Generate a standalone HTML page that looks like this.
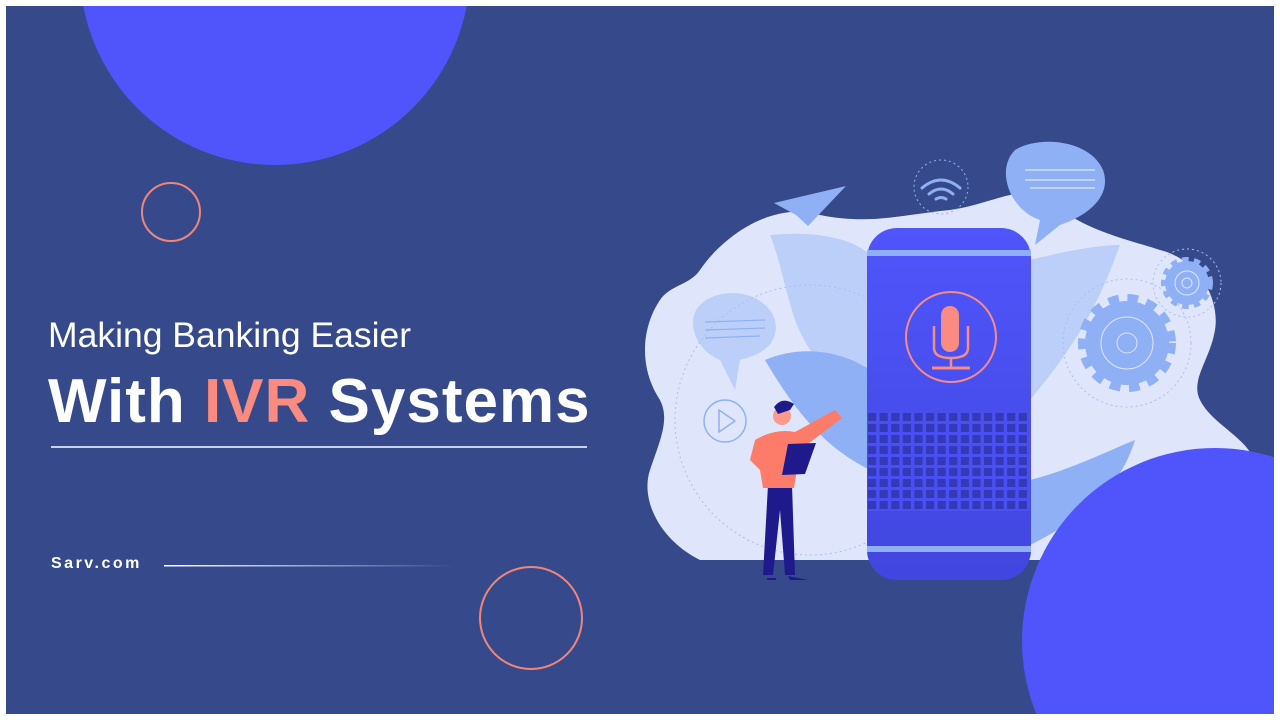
<!DOCTYPE html>
<html><head><meta charset="utf-8"><style>
html,body{margin:0;padding:0;background:#fff;width:1280px;height:720px;overflow:hidden;}
.wrap{position:relative;width:1280px;height:720px;overflow:hidden;background:#fff;}
.frame{position:absolute;left:6px;top:6px;width:1268px;height:708px;background:#364a8b;overflow:hidden;}
.t1{position:absolute;left:42px;top:309px;color:#fff;font:400 35.5px "Liberation Sans",sans-serif;white-space:nowrap;}
.t2{position:absolute;left:42px;top:360px;color:#fff;font:700 62px "Liberation Sans",sans-serif;letter-spacing:1px;white-space:nowrap;}
.t2 span{color:#f98b80;}
.sarv{position:absolute;left:45px;top:549px;color:#fff;font:700 16px "Liberation Sans",sans-serif;letter-spacing:2.5px;}
</style></head><body><div class="wrap"><div class="frame">
<svg width="1268" height="708" style="position:absolute;left:0;top:0" viewBox="6 6 1268 708">
<defs><linearGradient id="lg" gradientUnits="userSpaceOnUse" x1="164" y1="0" x2="455" y2="0"><stop offset="0" stop-color="#fff"/><stop offset="1" stop-color="#fff" stop-opacity="0"/></linearGradient>
<linearGradient id="sp" x1="0" y1="0" x2="0" y2="1"><stop offset="0" stop-color="#4f55fb"/><stop offset="1" stop-color="#4146df"/></linearGradient></defs>
<circle cx="275" cy="-30" r="195" fill="#4f55fb"/>
<circle cx="171" cy="212" r="29" fill="none" stroke="#f0857a" stroke-width="2"/>
<circle cx="531" cy="618" r="51" fill="none" stroke="#f0857a" stroke-width="2"/>
<line x1="51" y1="447" x2="587" y2="447" stroke="#fff" stroke-width="1.5"/>
<rect x="164" y="565" width="291" height="1.5" fill="url(#lg)"/>
<path d="M700 270 C720 240 770 200 820 215 C870 225 900 215 950 210 C990 205 1030 180 1050 200 C1080 230 1130 240 1160 250 C1200 260 1220 300 1215 330 C1210 360 1190 380 1200 400 C1215 430 1260 440 1258 480 L1200 560 L700 560 C660 540 640 500 650 470 C660 440 670 420 660 400 C640 370 640 330 660 300 C670 285 690 285 700 270Z" fill="#dfe6fb"/>
<path d="M770 235 C820 230 860 240 875 260 L875 400 C840 390 810 360 795 320 C785 290 780 260 770 235Z" fill="#bccff9"/>
<path d="M765 360 C800 345 840 350 870 370 L870 470 C830 450 800 420 765 360Z" fill="#8fb0f5"/>
<path d="M1030 260 C1070 250 1100 245 1120 245 C1100 300 1080 340 1030 400Z" fill="#bccff9"/>
<path d="M1030 480 C1070 470 1110 450 1135 440 C1120 490 1080 520 1030 545Z" fill="#8fb0f5"/>
<path d="M1015 150 C1040 135 1090 140 1103 170 C1112 195 1090 215 1060 225 L1035 245 L1040 220 C1010 210 995 170 1015 150Z" fill="#8fb0f5"/>
<g stroke="#dfe6fb" stroke-width="1.2"><line x1="1025" y1="170" x2="1095" y2="170"/><line x1="1025" y1="180" x2="1095" y2="180"/><line x1="1030" y1="188" x2="1095" y2="188"/></g>
<path d="M700 305 C720 285 765 290 775 320 C780 345 760 355 740 360 L735 390 L720 360 C695 350 685 320 700 305Z" fill="#bccff9"/>
<g stroke="#8fb0f5" stroke-width="1.2"><line x1="705" y1="322" x2="765" y2="320"/><line x1="705" y1="330" x2="765" y2="328"/><line x1="705" y1="338" x2="760" y2="336"/></g>
<path d="M774 203 L846 186 L808 226 L796 215Z" fill="#8fb0f5"/>
<circle cx="941" cy="187" r="27" fill="none" stroke="#8fb0f5" stroke-dasharray="2 3"/>
<g fill="none" stroke="#8fb0f5" stroke-width="3" stroke-linecap="round"><path d="M922 188 Q941 172 960 188"/><path d="M929 194 Q941 184 953 194"/><path d="M936 199 Q941 196 946 199"/></g>
<circle cx="725" cy="421" r="21" fill="none" stroke="#8fb0f5" stroke-width="1.5"/>
<path d="M719 410 L735 421 L719 432Z" fill="none" stroke="#8fb0f5" stroke-width="1.5"/>
<circle cx="810" cy="420" r="135" fill="none" stroke="#a8bff6" stroke-dasharray="2 3"/>
<circle cx="1127" cy="343" r="42" fill="#8fb0f5" stroke="#8fb0f5" stroke-width="14" stroke-dasharray="10 8"/>
<circle cx="1127" cy="343" r="40" fill="#8fb0f5"/>
<circle cx="1127" cy="343" r="26" fill="none" stroke="#dfe6fb"/><circle cx="1127" cy="343" r="10" fill="none" stroke="#dfe6fb"/>
<circle cx="1127" cy="343" r="64" fill="none" stroke="#a8bff6" stroke-dasharray="2 3"/>
<circle cx="1187" cy="283" r="22" fill="#8fb0f5" stroke="#8fb0f5" stroke-width="8" stroke-dasharray="6 5"/>
<circle cx="1187" cy="283" r="12" fill="none" stroke="#dfe6fb"/><circle cx="1187" cy="283" r="5" fill="none" stroke="#dfe6fb"/>
<circle cx="1187" cy="283" r="34" fill="none" stroke="#a8bff6" stroke-dasharray="2 3"/>
<rect x="867" y="228" width="164" height="352" rx="30" fill="url(#sp)"/>
<rect x="867" y="250" width="164" height="6" fill="#8fb0f5"/>
<rect x="867" y="546" width="164" height="6" fill="#8fb0f5"/>
<circle cx="951" cy="337" r="45" fill="none" stroke="#f98b80" stroke-width="2"/>
<rect x="941" y="306" width="18" height="46" rx="9" fill="#f98b80"/>
<path d="M934 326 L934 348 Q934 358 951 358 Q968 358 968 348 L968 326" fill="none" stroke="#f98b80" stroke-width="2.5"/>
<line x1="951" y1="358" x2="951" y2="368" stroke="#f98b80" stroke-width="2.5"/>
<line x1="932" y1="368" x2="970" y2="368" stroke="#f98b80" stroke-width="3"/>
<path d="M768 485 L763 575 L773 575 L780 510 L785 575 L795 575 L792 485Z" fill="#1f1a8c"/>
<path d="M755 440 Q775 428 795 432 L835 410 L842 418 L800 450 L794 488 L763 488 L760 470 L750 460Z" fill="#fc7b69"/>
<circle cx="782" cy="416" r="9" fill="#fc9a8a"/>
<path d="M774 407 Q782 396 794 404 L790 410 L778 414Z" fill="#1f1a8c"/>
<path d="M788 444 L816 443 L805 474 L782 475Z" fill="#1f1a8c"/>
<path d="M767 578 L776 578 L776 580 L767 580Z M788 576 L808 580 L790 580Z" fill="#1f1a8c"/>
</svg>
<div style="position:absolute;left:862px;top:407px;width:162px;height:98px;
background-image:linear-gradient(90deg,#3439b8 0 8px,transparent 8px),linear-gradient(#3439b8 0 8px,transparent 8px);background-size:11.6px 11px;"></div>
<div style="position:absolute;left:862px;top:407px;width:162px;height:98px;
background-image:linear-gradient(90deg,transparent 8px,#4a4ff3 8px),linear-gradient(transparent 8px,#4a4ff3 8px);background-size:11.6px 11px;"></div>
<svg width="1268" height="708" style="position:absolute;left:0;top:0" viewBox="6 6 1268 708">
<circle cx="1215" cy="641" r="193" fill="#4f55fb"/>
</svg>
<div class="t1">Making Banking Easier</div>
<div class="t2">With <span>IVR</span> Systems</div>
<div class="sarv">Sarv.com</div>
</div></div></body></html>
